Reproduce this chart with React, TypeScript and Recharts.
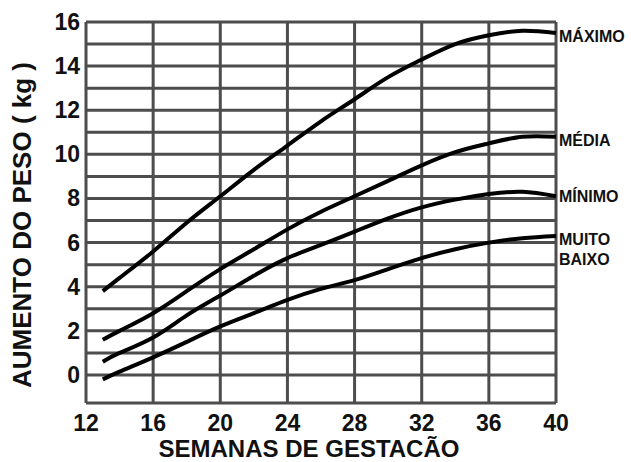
import { LineChart, Line, XAxis, YAxis, CartesianGrid } from 'recharts';

// Semanas de gestação e curvas de ganho de peso (kg)
const weeks = [13, 14, 16, 18, 20, 22, 24, 26, 28, 30, 32, 34, 36, 38, 40];
const maximo = [3.8, 4.4, 5.6, 6.9, 8.1, 9.3, 10.4, 11.5, 12.5, 13.5, 14.3, 15.0, 15.4, 15.6, 15.5];
const media = [1.6, 2.0, 2.8, 3.8, 4.8, 5.7, 6.6, 7.4, 8.1, 8.8, 9.5, 10.1, 10.5, 10.8, 10.8];
const minimo = [0.6, 1.0, 1.7, 2.7, 3.6, 4.5, 5.3, 5.9, 6.5, 7.1, 7.6, 7.95, 8.2, 8.3, 8.1];
const muitoBaixo = [-0.2, 0.15, 0.8, 1.5, 2.2, 2.8, 3.4, 3.9, 4.3, 4.8, 5.3, 5.7, 6.0, 6.2, 6.3];

const xTicks = [12, 16, 20, 24, 28, 32, 36, 40];
const yMin = -1.27;
const yTicks = [yMin, 0, 1, 2, 3, 4, 5, 6, 7, 8, 9, 10, 11, 12, 13, 14, 15, 16];

const data = weeks.map((w, i) => ({
  week: w,
  maximo: maximo[i],
  media: media[i],
  minimo: minimo[i],
  muitoBaixo: muitoBaixo[i],
}));

const FONT = 'Arial, "Liberation Sans", Helvetica, sans-serif';
const INK = '#111';
const last = weeks.length - 1;

const YTick = (props: any) => {
  const { x, y, payload } = props;
  const v = payload.value;
  if (v < 0 || v % 2 !== 0) return <g />;
  return (
    <text x={x - 6} y={y} textAnchor="end" dominantBaseline="central"
      fontFamily={FONT} fontWeight="bold" fontSize={23} fill={INK}>
      {v}
    </text>
  );
};

const XTick = (props: any) => {
  const { x, y, payload } = props;
  return (
    <text x={x} y={y + 20} textAnchor="middle" dominantBaseline="central"
      fontFamily={FONT} fontWeight="bold" fontSize={23} fill={INK}>
      {payload.value}
    </text>
  );
};

const endLabel = (lines: string[], dy: number) => (props: any) => {
  const { x, y, index } = props;
  if (index !== last) return <g />;
  return (
    <g>
      {lines.map((t, k) => (
        <text key={t} x={x + 3} y={y + dy + k * 20} dominantBaseline="central"
          fontFamily={FONT} fontWeight="bold" fontSize={16} fill={INK}>
          {t}
        </text>
      ))}
    </g>
  );
};

export default function App() {
  return (
    <div style={{ position: 'absolute', left: 0, top: 0, background: '#fff' }}>
      <LineChart width={631} height={462} data={data}
        margin={{ top: 22, right: 75, bottom: 0, left: 0 }}>
        <CartesianGrid stroke="#4d4d4d" strokeWidth={3} fill="#fff" />
        <XAxis dataKey="week" type="number" domain={[12, 40]} ticks={xTicks}
          height={59} axisLine={false} tickLine={false} tickSize={0} tickMargin={0}
          tick={<XTick />} interval={0}
          label={{
            content: (p: any) => {
              const vb = p.viewBox;
              return (
                <text x={vb.x + vb.width / 2 - 12} y={448} textAnchor="middle" dominantBaseline="central"
                  fontFamily={FONT} fontWeight="bold" fontSize={24} fill={INK}>
                  SEMANAS DE GESTACÃO
                </text>
              );
            },
          }}
        />
        <YAxis type="number" domain={[yMin, 16]} ticks={yTicks} width={86}
          axisLine={false} tickLine={false} tickSize={0} tickMargin={0}
          tick={<YTick />} interval={0}
          label={{
            content: () => (
              <text x={22} y={225} transform="rotate(-90 22 225)" textAnchor="middle"
                dominantBaseline="central" fontFamily={FONT} fontWeight="bold" fontSize={26} fill={INK}>
                AUMENTO DO PESO ( kg )
              </text>
            ),
          }}
        />
        <Line dataKey="maximo" type="natural" stroke="#000" strokeWidth={4} dot={false}
          isAnimationActive={false} label={endLabel(['MÁXIMO'], 3)} />
        <Line dataKey="media" type="natural" stroke="#000" strokeWidth={4} dot={false}
          isAnimationActive={false} label={endLabel(['MÉDIA'], 4)} />
        <Line dataKey="minimo" type="natural" stroke="#000" strokeWidth={4} dot={false}
          isAnimationActive={false} label={endLabel(['MÍNIMO'], 0)} />
        <Line dataKey="muitoBaixo" type="natural" stroke="#000" strokeWidth={4} dot={false}
          isAnimationActive={false} label={endLabel(['MUITO', 'BAIXO'], 4)} />
      </LineChart>
    </div>
  );
}
